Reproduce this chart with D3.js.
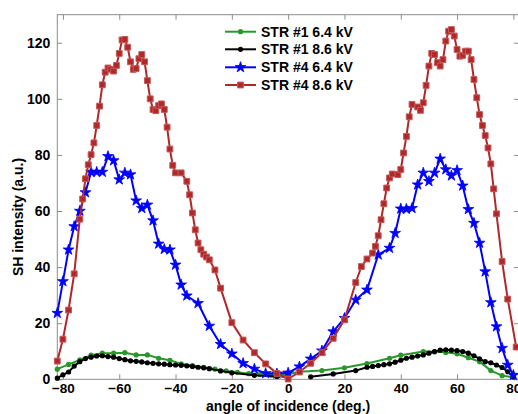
<!DOCTYPE html>
<html><head><meta charset="utf-8">
<script src="https://cdn.jsdelivr.net/npm/d3@7"></script>
<style>body{margin:0;background:#fff}svg{display:block}text{font-family:"Liberation Sans",Arial,sans-serif;font-weight:bold}</style>
</head><body>
<script>
// ---- data ----
const str1_64_x = [-82,-78,-74,-70,-66,-62,-58,-54,-50,-46,-42,-38,-34,-30,-26,-22,-18,-14,-10,-6,-2,0,4,12,20,28,36,40,48,52,56,60,64,68,72,76,80];
const str1_64_y = [3.6,5.3,6.9,8.6,9.3,9.3,9.5,8.7,8.7,7.5,6.8,5.5,4.9,4.3,3.6,3.0,2.5,2.0,1.7,1.5,1.4,1.8,2.7,3.1,4.1,5.6,7.5,8.6,9.9,9.8,9.6,9.1,7.7,6.3,3.1,1.3,0.7];

const str1_86_x = [-82,-80,-78,-76,-74,-72,-70,-68,-66,-64,-62,-60,-58,-56,-54,-52,-50,-48,-46,-44,-42,-40,-38,-36,-34,-32,-30,-28,-24,-20,-12,-4,null,8,16,24,28,30,32,34,36,38,40,42,44,46,48,50,52,54,56,58,60,62,64,66,68,70,72,74,76,78,80];
const str1_86_y = [0.4,1.6,2.6,4.7,6.3,7.4,7.9,8.3,8.4,8.1,7.9,7.4,7.0,6.6,6.4,6.2,5.9,5.7,5.5,5.4,5.2,5.1,5.0,4.8,4.6,4.3,4.1,3.8,3.0,2.3,1.4,1.0,null,0.9,1.9,3.1,4.3,4.6,4.9,5.2,5.5,6.1,6.8,7.5,7.9,8.3,8.7,9.3,9.9,10.4,10.5,10.4,10.2,9.9,9.3,8.4,7.3,6.3,5.9,5.1,4.2,2.7,0.9];

const str4_64_x = [-82,-80,-78,-76,-74,-72,-70,-68,-66,-64,-62,-60,-58,-56,-54,-52,-50,-48,-46,-44,-42,-40,-38,-36,-32,-28,-24,-20,-16,-12,-8,-4,0,4,8,12,16,20,24,28,32,36,38,40,42,44,46,48,50,52,54,56,58,60,62,64,66,68,70,72,74,76,78,80];
const str4_64_y = [23.6,34.9,46.2,54.5,60,66.6,73.9,73.9,73.9,79.5,78,71.2,73.6,73,63.7,61,62.2,56.6,48.3,46.4,46.2,40.8,33.7,29.8,27.1,19,12.5,9.1,5.7,3.7,2.1,2.0,2.3,4.5,7.3,10.2,17,21.8,28.3,31.9,44.4,46.8,52.1,60.8,60.7,61,69.4,73.6,70.6,73.6,78.6,74.8,72.6,74.5,69,60.6,55.7,48.6,38.4,27.4,18.8,11.1,5.1,1.5];

const str4_86_x = [-82,-80,-78,-76,-74,-73,-72,-71,-70,-69,-68,-67,-66,-65,-64,-63,-62,-61,-60,-59,-58,-57,-56,-55,-54,-53,-52,-51,-50,-49,-48,-47,-46,-45,-44,-43,-42,-41,-40,-38,-36,-35,-34,-33,-32,-31,-30,-29,-28,-26,-24,-20,-16,-12,-8,-4,0,4,8,12,16,20,24,26,28,30,31,32,33,34,35,36,37,39,40,41,42,43,44,46,47,48,49,50,51,52,53,54,55,56,57,58,59,60,61,62,63,64,65,66,67,68,69,70,71,72,73,74,76,78,81];
const str4_86_y = [6.5,14.3,24.7,37.6,57.1,64.3,71.5,76.5,80.1,84.3,90.5,97.4,105,109.5,111,110.5,109.9,111.9,116.2,121,121.2,118.4,113.2,110.5,110.8,114.3,115.8,113.2,106.5,100,96.2,95.8,97.6,98.2,96.2,89.9,82.1,76.3,73.6,73.6,70.6,65.8,59.3,53.3,48.6,46.2,44.6,43.6,42.6,39,32.5,20.2,14,9.5,5.5,2.1,0.1,2.6,5.7,9.5,14.6,21.2,34.5,40.2,42.9,45,47.4,51.2,56.9,62.6,68.2,71.8,73.2,73,74.8,80.7,86.6,93.6,98,97.1,95.9,98.6,104.8,111.7,116.2,115.8,112.9,111.7,114,120.6,124.1,124.7,122.4,117.6,115.2,115.5,117,117,114,106.9,100.4,94.4,90.5,86.9,82.5,76.8,67.9,59,42,28.6,11.5];

const xTicks = [-80,-60,-40,-20,0,20,40,60,80];
const yTicks = [0,20,40,60,80,100,120];
const legendLabels = ["STR #1 6.4 kV","STR #1 8.6 kV","STR #4 6.4 kV","STR #4 8.6 kV"];

// ---- chart ----
const W = 518, H = 414;
const L = 57.3, R = 519, T = 14.7, B = 379.3;
const svg = d3.select("body").append("svg").attr("width", W).attr("height", H);
const x = d3.scaleLinear().domain([-82, 82]).range([L, R]);
const y = d3.scaleLinear().domain([0, 130]).range([B, T]);

const axisColor = "#8c8c8c";
svg.append("rect").attr("x", L).attr("y", T).attr("width", R - L).attr("height", B - T)
  .attr("fill", "none").attr("stroke", axisColor).attr("stroke-width", 1);

const tl = 5;
const gx = svg.append("g").attr("transform", `translate(0,${B})`)
  .call(d3.axisBottom(x).tickValues(xTicks).tickSizeInner(-tl).tickSizeOuter(0).tickPadding(4).tickFormat(d => d < 0 ? "\u2212" + (-d) : d));
gx.select(".domain").remove();
gx.selectAll("line").attr("stroke", axisColor);
gx.selectAll("text").attr("font-size", 13.5).attr("fill", "#000").attr("font-family", "Liberation Sans, Arial, sans-serif").attr("font-weight", "bold");
const gxt = svg.append("g").attr("transform", `translate(0,${T})`)
  .call(d3.axisTop(x).tickValues(xTicks).tickSizeInner(-tl).tickSizeOuter(0).tickFormat(""));
gxt.select(".domain").remove();
gxt.selectAll("line").attr("stroke", axisColor);
const gy = svg.append("g").attr("transform", `translate(${L},0)`)
  .call(d3.axisLeft(y).tickValues(yTicks).tickSizeInner(-tl).tickSizeOuter(0).tickPadding(7));
gy.select(".domain").remove();
gy.selectAll("line").attr("stroke", axisColor);
gy.selectAll("text").attr("font-size", 14).attr("fill", "#000").attr("font-family", "Liberation Sans, Arial, sans-serif").attr("font-weight", "bold");
const gyr = svg.append("g").attr("transform", `translate(${R},0)`)
  .call(d3.axisRight(y).tickValues(yTicks).tickSizeInner(-tl).tickSizeOuter(0).tickFormat(""));
gyr.select(".domain").remove();
gyr.selectAll("line").attr("stroke", axisColor);

svg.append("text").attr("x", x(0)).attr("y", 410.5).attr("text-anchor", "middle")
  .attr("font-size", 14).text("angle of incidence (deg.)");
svg.append("text").attr("transform", `translate(23,${(T + B) / 2 + 20}) rotate(-90)`)
  .attr("text-anchor", "middle").attr("font-size", 14).text("SH intensity (a.u.)");

const series = [
  {xs: str1_64_x, ys: str1_64_y, color: "#2a972a", marker: "circle"},
  {xs: str1_86_x, ys: str1_86_y, color: "#000000", marker: "circle"},
  {xs: str4_64_x, ys: str4_64_y, color: "#0000ff", marker: "star"},
  {xs: str4_86_x, ys: str4_86_y, color: "#b0282a", marker: "square"}
];
const line = d3.line().defined(d => d[0] !== null && d[1] !== null).x(d => x(d[0])).y(d => y(d[1]));

function drawMarker(g, m, color, cx, cy) {
  if (m === "circle") {
    g.append("circle").attr("cx", cx).attr("cy", cy).attr("r", 2.6).attr("fill", color);
  } else if (m === "star") {
    g.append("path").attr("d", d3.symbol().type(d3.symbolStar).size(36)())
      .attr("transform", `translate(${cx},${cy})`).attr("fill", color).attr("stroke", color).attr("stroke-width", 0.8);
  } else {
    g.append("path").attr("d", d3.symbol().type(d3.symbolSquare).size(34)())
      .attr("transform", `translate(${cx},${cy})`).attr("fill", color).attr("stroke", "#c45a5a").attr("stroke-width", 1);
  }
}

series.forEach(s => {
  const pts = s.xs.map((v, i) => [v, s.ys[i]]);
  svg.append("path").datum(pts).attr("d", line).attr("fill", "none")
    .attr("stroke", s.color).attr("stroke-width", 2).attr("stroke-linejoin", "round");
  const g = svg.append("g");
  pts.filter(p => p[0] !== null && p[1] !== null).forEach(p => drawMarker(g, s.marker, s.color, x(p[0]), y(p[1])));
});

const legY = [31.7, 49.3, 67.3, 85];
series.forEach((s, i) => {
  const g = svg.append("g");
  g.append("line").attr("x1", 225).attr("x2", 256).attr("y1", legY[i]).attr("y2", legY[i])
    .attr("stroke", s.color).attr("stroke-width", 2);
  drawMarker(g, s.marker, s.color, 240.5, legY[i]);
  g.append("text").attr("x", 261).attr("y", legY[i] + 5).attr("font-size", 14).text(legendLabels[i]);
});
</script>
</body></html>
